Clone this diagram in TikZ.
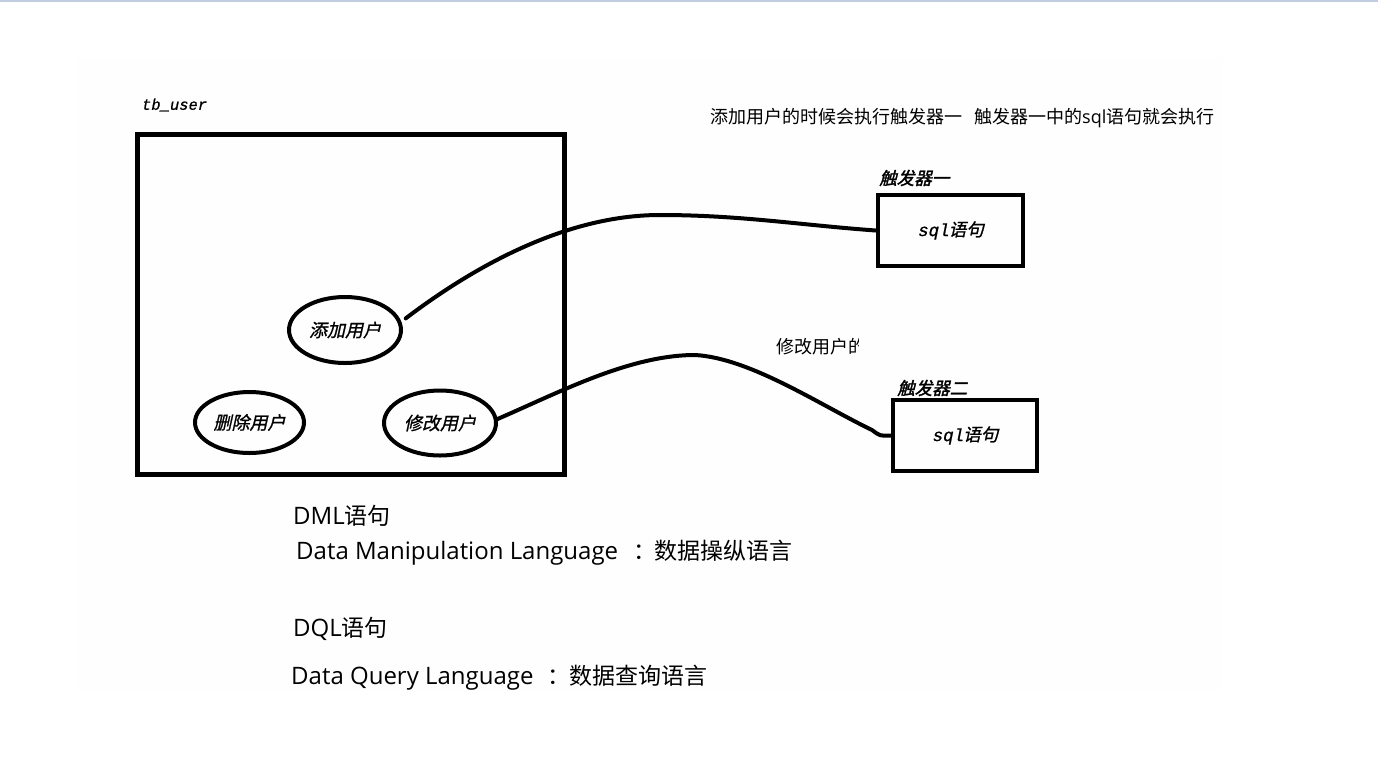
\documentclass[tikz,border=0pt]{standalone}
\usepackage{fontspec}
\setmainfont{Noto Sans CJK SC}
\newfontfamily\cjk{Noto Sans CJK SC}
\newfontfamily\latin{Open Sans}
\newfontfamily\cjkit[FakeSlant=0.22,FakeBold=1]{Noto Sans CJK SC}
\newfontfamily\cjkbi[FakeSlant=0.25,FakeBold=1.8]{Noto Sans CJK SC}
\newfontfamily\monoit[FakeSlant=0.2,FakeBold=0.8]{Liberation Mono}
\usetikzlibrary{shapes.geometric}
\definecolor{topline}{RGB}{192,204,224}
\definecolor{offwhite}{RGB}{254,254,254}
\newcommand{\lat}[1]{{\latin\fontsize{24}{27}\selectfont #1}}
\tikzset{
  ell/.style={draw,ellipse,line width=4pt,inner sep=0pt,font=\cjkit\fontsize{18}{21}\selectfont},
  sqlbox/.style={draw,rectangle,line width=4.5pt,inner sep=0pt,minimum width=145pt,minimum height=71pt},
  conn/.style={line width=4pt,line cap=round},
  lbl/.style={anchor=west,inner sep=0pt},
  big/.style={lbl,font=\cjk\fontsize{23}{27}\selectfont},
}
\begin{document}
\begin{tikzpicture}[x=1pt,y=-1pt]
\useasboundingbox (0,0) rectangle (1378,756);
\fill[white] (0,0) rectangle (1378,756);
\fill[offwhite] (77,58) rectangle (1222,690);
\fill[topline] (0,0) rectangle (1378,2);

% table box
\node[draw,rectangle,line width=4.5pt,minimum width=427pt,minimum height=340pt,inner sep=0pt] (tbuser) at (351,304.5) {};
\node[lbl,font=\monoit\fontsize{15.5}{18}\selectfont] (tblabel) at (141,105) {tb\_user};

% ellipses
\node[ell,minimum width=112pt,minimum height=66pt] (add) at (345,330) {添加用户};
\node[ell,minimum width=109pt,minimum height=61pt] (del) at (249.5,422.5) {删除用户};
\node[ell,minimum width=112pt,minimum height=65pt] (mod) at (440,423) {修改用户};

% trigger boxes
\node[sqlbox] (t1) at (950.5,230.5) {\fontsize{17.5}{20}\selectfont{\monoit sql}{\cjkit 语句}};
\node[sqlbox,minimum width=144pt] (t2) at (965,435.5) {\fontsize{17.5}{20}\selectfont{\monoit sql}{\cjkit 语句}};
\node[lbl,font=\cjkbi\fontsize{17.5}{20}\selectfont] (t1lbl) at (879,178) {触发器一};
\node[lbl,font=\cjkbi\fontsize{17.5}{20}\selectfont] (t2lbl) at (897,388) {触发器二};

% connectors
\coordinate (p1) at (660,215);
\draw[conn] ([xshift=6pt]add.12) .. controls (480,262) and (570,215) .. (p1)
  .. controls (740,215) and (800,225) .. (t1.west);
\coordinate (q1) at (695,355);
\coordinate (q2) at (872,430);
\draw[conn] (mod.4) .. controls (560,392) and (630,355) .. (q1)
  .. controls (750,358) and (820,405) .. (q2)
  .. controls (880,436) .. (t2.west);

% annotations
\node[lbl,font=\cjk\fontsize{18}{21}\selectfont] (note1) at (710,118) {添加用户的时候会执行触发器一\hspace{12pt}触发器一中的{\latin sql}语句就会执行};
\begin{scope}
\clip (770,330) rectangle (858,365);
\node[lbl,font=\cjk\fontsize{18}{21}\selectfont] (note2) at (776,347) {修改用户的};
\end{scope}

% bottom texts
\node[big] (dml) at (293,516) {\lat{DML}语句};
\node[big] (dmlfull) at (296,553) {\lat{Data Manipulation Language}\hspace{15pt}：\hspace{-2pt}数据操纵语言};
\node[big] (dql) at (293,629) {\lat{DQL}语句};
\node[big] (dqlfull) at (291,678) {\lat{Data Query Language}\hspace{14pt}：\hspace{-1pt}数据查询语言};
\end{tikzpicture}
\end{document}
